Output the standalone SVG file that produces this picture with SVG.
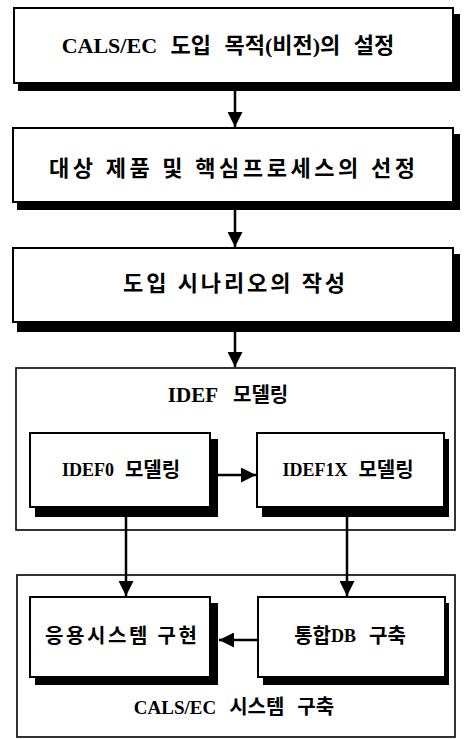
<svg xmlns="http://www.w3.org/2000/svg" width="464" height="739" viewBox="0 0 464 739">
<style>
.box{fill:#fff;stroke:#000;stroke-width:2}
.shadow{fill:#000}
.outer{fill:#fff;stroke:#000;stroke-width:1.6}
.t{font-family:"Liberation Serif","Noto Sans CJK KR",serif;font-size:22px;font-weight:bold;fill:#000;text-anchor:middle;dominant-baseline:central}
.ts{font-family:"Liberation Serif","Noto Sans CJK KR",serif;font-size:20px;font-weight:bold;fill:#000;text-anchor:middle;dominant-baseline:central}
.lat{font-size:18px}
.c{stroke:#000;stroke-width:2.5;fill:none}
</style>
<defs>
<marker id="ah" viewBox="0 0 10 10" refX="10" refY="5" markerWidth="6" markerHeight="6" markerUnits="strokeWidth" orient="auto">
<path d="M0,0 L10,5 L0,10 Z" fill="#000"/>
</marker>
</defs>
<g id="n1">
<rect class="shadow" x="18" y="14" width="442" height="77"/>
<rect class="box" x="14" y="8" width="439" height="75"/>
<text class="t" x="228" y="45" word-spacing="8">CALS/EC 도입 목적(비전)의 설정</text>
</g>
<g id="n2">
<rect class="shadow" x="17" y="134" width="443" height="76"/>
<rect class="box" x="13" y="128" width="440" height="74"/>
<text class="t" x="232" y="168" textLength="366" lengthAdjust="spacing">대상 제품 및 핵심프로세스의 선정</text>
</g>
<g id="n3">
<rect class="shadow" x="17" y="254" width="443" height="78"/>
<rect class="box" x="13" y="248" width="440" height="74"/>
<text class="t" x="234" y="283" textLength="222" lengthAdjust="spacing">도입 시나리오의 작성</text>
</g>
<g id="n4">
<rect class="outer" x="16" y="368" width="439" height="162"/>
<text class="ts" x="228" y="395" word-spacing="10"><tspan font-size="21">IDEF</tspan> 모델링</text>
</g>
<g id="n5">
<rect class="shadow" x="35" y="439" width="183" height="78"/>
<rect class="box" x="30" y="433" width="180" height="74"/>
<text class="ts" x="121" y="470" word-spacing="6"><tspan class="lat">IDEF0</tspan> 모델링</text>
</g>
<g id="n6">
<rect class="shadow" x="262" y="439" width="187" height="78"/>
<rect class="box" x="257" y="433" width="187" height="74"/>
<text class="ts" x="348" y="470" word-spacing="6"><tspan class="lat">IDEF1X</tspan> 모델링</text>
</g>
<g id="n7">
<rect class="outer" x="17" y="575" width="438" height="162"/>
<text class="ts" x="234" y="707" word-spacing="8"><tspan font-size="19">CALS/EC</tspan> 시스템 구축</text>
</g>
<g id="n8">
<rect class="shadow" x="35" y="603" width="183" height="82"/>
<rect class="box" x="30" y="597" width="180" height="80"/>
<text class="ts" x="121" y="636" textLength="152" lengthAdjust="spacing">응용시스템 구현</text>
</g>
<g id="n9">
<rect class="shadow" x="263" y="603" width="186" height="82"/>
<rect class="box" x="258" y="597" width="187" height="80"/>
<text class="ts" x="350" y="636" word-spacing="8">통합<tspan class="lat">DB</tspan> 구축</text>
</g>
<g id="connectors">
<line class="c" x1="235" y1="91" x2="235" y2="127" marker-end="url(#ah)"/>
<line class="c" x1="235" y1="210" x2="235" y2="247" marker-end="url(#ah)"/>
<line class="c" x1="235" y1="332" x2="235" y2="367" marker-end="url(#ah)"/>
<line class="c" x1="218" y1="475" x2="256" y2="475" marker-end="url(#ah)"/>
<line class="c" x1="126" y1="517" x2="126" y2="596" marker-end="url(#ah)"/>
<line class="c" x1="347" y1="517" x2="347" y2="596" marker-end="url(#ah)"/>
<line class="c" x1="258" y1="640" x2="219" y2="640" marker-end="url(#ah)"/>
</g>
</svg>
